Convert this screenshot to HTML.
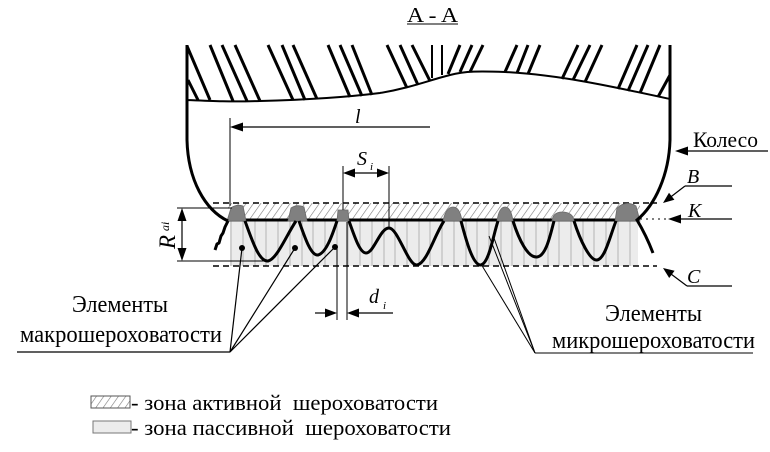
<!DOCTYPE html>
<html><head><meta charset="utf-8"><style>
html,body{margin:0;padding:0;background:#fff;}
svg{display:block;}
text{font-family:"Liberation Serif","DejaVu Serif",serif;fill:#000;white-space:pre;}
</style></head><body>
<svg width="770" height="452" viewBox="0 0 770 452" xmlns="http://www.w3.org/2000/svg" xml:space="preserve">
<defs>
<pattern id="hat" width="6" height="6" patternUnits="userSpaceOnUse" patternTransform="rotate(35)">
<line x1="0" y1="0" x2="0" y2="6" stroke="#7a7a7a" stroke-width="1.2"/>
</pattern>
<clipPath id="clipA"><rect x="228" y="203" width="412" height="17"/></clipPath>
</defs>

<!-- title -->
<text x="407" y="22" font-size="21" textLength="51" lengthAdjust="spacingAndGlyphs">A - A</text>
<line x1="407" y1="24" x2="458" y2="24" stroke="#000" stroke-width="1"/>

<!-- tire hatching -->
<g stroke="#000" stroke-width="3" fill="none" stroke-linecap="butt">
<line x1="187" y1="46" x2="210" y2="100"/>
<line x1="188" y1="80" x2="198" y2="100"/>
<line x1="210" y1="45" x2="233" y2="101"/>
<line x1="222" y1="45" x2="247" y2="101"/>
<line x1="235" y1="45" x2="260" y2="101"/>
<line x1="268" y1="45" x2="293" y2="100"/>
<line x1="282" y1="45" x2="305" y2="100"/>
<line x1="293" y1="45" x2="317" y2="99"/>
<line x1="328" y1="45" x2="350" y2="97"/>
<line x1="340" y1="45" x2="362" y2="96"/>
<line x1="352" y1="45" x2="372" y2="95"/>
<line x1="387" y1="45" x2="407" y2="88"/>
<line x1="400" y1="45" x2="418" y2="85"/>
<line x1="412" y1="45" x2="430" y2="81"/>
<line x1="432" y1="45" x2="432" y2="78" stroke-width="2"/>
<line x1="442" y1="45" x2="442" y2="75" stroke-width="2"/>
<line x1="460" y1="45" x2="448" y2="74"/>
<line x1="472" y1="45" x2="460" y2="72"/>
<line x1="483" y1="45" x2="470" y2="72"/>
<line x1="517" y1="45" x2="505" y2="72"/>
<line x1="528" y1="45" x2="517" y2="73"/>
<line x1="540" y1="45" x2="528" y2="74"/>
<line x1="578" y1="45" x2="562" y2="79"/>
<line x1="590" y1="45" x2="573" y2="80"/>
<line x1="602" y1="45" x2="585" y2="82"/>
<line x1="637" y1="45" x2="618" y2="89"/>
<line x1="648" y1="45" x2="628" y2="91"/>
<line x1="660" y1="45" x2="640" y2="93"/>
<line x1="670" y1="75" x2="658" y2="97"/>
</g>
<!-- tire profile -->
<path d="M187,100 C210,101 230,102 260,101 C300,100 340,98 380,93 C410,88 430,80 450,75 C465,71 480,71 505,72 C560,75 610,86 670,99" stroke="#000" stroke-width="2" fill="none"/>

<!-- passive zone -->
<rect x="230" y="220" width="408" height="46" fill="#ececec"/>
<g stroke="#b4b4b4" stroke-width="1">
<line x1="231" y1="220" x2="231" y2="266"/><line x1="243" y1="220" x2="243" y2="266"/>
<line x1="255" y1="220" x2="255" y2="266"/><line x1="266" y1="220" x2="266" y2="266"/>
<line x1="278" y1="220" x2="278" y2="266"/><line x1="290" y1="220" x2="290" y2="266"/>
<line x1="302" y1="220" x2="302" y2="266"/><line x1="313" y1="220" x2="313" y2="266"/>
<line x1="325" y1="220" x2="325" y2="266"/><line x1="337" y1="220" x2="337" y2="266"/>
<line x1="348" y1="220" x2="348" y2="266"/><line x1="360" y1="220" x2="360" y2="266"/>
<line x1="372" y1="220" x2="372" y2="266"/><line x1="384" y1="220" x2="384" y2="266"/>
<line x1="395" y1="220" x2="395" y2="266"/><line x1="407" y1="220" x2="407" y2="266"/>
<line x1="419" y1="220" x2="419" y2="266"/><line x1="430" y1="220" x2="430" y2="266"/>
<line x1="442" y1="220" x2="442" y2="266"/><line x1="454" y1="220" x2="454" y2="266"/>
<line x1="466" y1="220" x2="466" y2="266"/><line x1="477" y1="220" x2="477" y2="266"/>
<line x1="489" y1="220" x2="489" y2="266"/><line x1="501" y1="220" x2="501" y2="266"/>
<line x1="512" y1="220" x2="512" y2="266"/><line x1="524" y1="220" x2="524" y2="266"/>
<line x1="536" y1="220" x2="536" y2="266"/><line x1="548" y1="220" x2="548" y2="266"/>
<line x1="559" y1="220" x2="559" y2="266"/><line x1="571" y1="220" x2="571" y2="266"/>
<line x1="583" y1="220" x2="583" y2="266"/><line x1="594" y1="220" x2="594" y2="266"/>
<line x1="606" y1="220" x2="606" y2="266"/><line x1="618" y1="220" x2="618" y2="266"/>
<line x1="630" y1="220" x2="630" y2="266"/>
</g>

<!-- active zone hatching -->
<rect x="228" y="203" width="412" height="17" fill="url(#hat)" clip-path="url(#clipA)"/>

<!-- dashed lines B and C -->
<line x1="213" y1="203" x2="657" y2="203" stroke="#000" stroke-width="1.5" stroke-dasharray="6,4"/>
<line x1="213" y1="266" x2="657" y2="266" stroke="#000" stroke-width="1.5" stroke-dasharray="6,4"/>
<!-- K dotted -->
<line x1="640" y1="219" x2="667" y2="219" stroke="#000" stroke-width="1" stroke-dasharray="2,4"/>

<!-- K line thick -->
<line x1="228" y1="220" x2="637" y2="220" stroke="#000" stroke-width="3"/>

<!-- bumps -->
<g fill="#808080" stroke="#6a6a6a" stroke-width="0.8">
<path d="M227,221 L231,208 Q236,204 243,206 L246,221 Z"/>
<path d="M288,221 L291,208 Q297,204 304,207 L307,221 Z"/>
<path d="M337,221 L338,210 L348,210 L349,221 Z"/>
<path d="M443,221 Q446,207 453,207 Q460,207 462,221 Z"/>
<path d="M497,221 Q499,207 505,207 Q511,207 513,221 Z"/>
<path d="M552,221 Q553,212 562,212 Q573,212 574,221 Z"/>
<path d="M615,221 L617,208 Q626,200 636,206 L640,221 Z"/>
</g>

<!-- wave profile -->
<g stroke="#000" stroke-width="3" fill="none" stroke-linejoin="round">
<path d="M215,250 L217,244 L219,243 L221,236 L223,233 L225,227 L228,221"/>
<path d="M245,221 C252,240 259,262 268,261 C277,259 286,236 296,221"/>
<path d="M299,221 C305,238 311,256 318,255 C326,253 332,236 337,221"/>
<path d="M349,221 C355,238 360,253 366,253 C374,253 380,228 389,228 C398,228 408,266 417,265 C427,263 434,236 444,221"/>
<path d="M461,221 C466,240 473,266 481,265 C489,263 493,236 498,221"/>
<path d="M513,221 C519,240 528,258 537,257 C546,256 550,236 554,221"/>
<path d="M574,221 C580,240 590,261 597,260 C605,259 610,236 616,221"/>
</g>

<!-- wheel outline -->
<g stroke="#000" stroke-width="3" fill="none">
<path d="M187,45 L187,140 C188,180 205,210 228,221"/>
<path d="M670,45 L670,140 C669,175 655,205 637,220 C643,230 648,240 653,253"/>
</g>

<!-- l dimension -->
<line x1="230" y1="118" x2="230" y2="206" stroke="#000" stroke-width="1"/>
<line x1="240" y1="127" x2="430" y2="127" stroke="#000" stroke-width="1.2"/>
<polygon points="230,127 243,122.5 243,131.5" fill="#000"/>
<text x="355" y="123" font-size="20" font-style="italic">l</text>

<!-- S_i -->
<line x1="343" y1="166" x2="343" y2="210" stroke="#000" stroke-width="1"/>
<line x1="389" y1="166" x2="389" y2="228" stroke="#000" stroke-width="1"/>
<line x1="350" y1="173" x2="382" y2="173" stroke="#000" stroke-width="1.2"/>
<polygon points="343,173 355,168.5 355,177.5" fill="#000"/>
<polygon points="389,173 377,168.5 377,177.5" fill="#000"/>
<text x="357" y="165" font-size="20" font-style="italic">S</text>
<text x="370" y="170" font-size="11" font-style="italic">i</text>

<!-- d_i -->
<line x1="337" y1="248" x2="337" y2="320" stroke="#000" stroke-width="1"/>
<line x1="347" y1="222" x2="347" y2="320" stroke="#000" stroke-width="1"/>
<line x1="315" y1="313" x2="330" y2="313" stroke="#000" stroke-width="1.2"/>
<line x1="354" y1="313" x2="393" y2="313" stroke="#000" stroke-width="1.2"/>
<polygon points="337,313 325,308.5 325,317.5" fill="#000"/>
<polygon points="347,313 359,308.5 359,317.5" fill="#000"/>
<text x="369" y="303" font-size="20" font-style="italic">d</text>
<text x="383" y="309" font-size="11" font-style="italic">i</text>

<!-- R_ai -->
<line x1="177" y1="208" x2="232" y2="208" stroke="#000" stroke-width="1"/>
<line x1="177" y1="261" x2="268" y2="261" stroke="#000" stroke-width="1"/>
<line x1="182" y1="215" x2="182" y2="254" stroke="#000" stroke-width="1.2"/>
<polygon points="182,208 177.5,221 186.5,221" fill="#000"/>
<polygon points="182,261 177.5,248 186.5,248" fill="#000"/>
<g transform="translate(175,249) rotate(-90)">
<text x="0" y="0" font-size="23" font-style="italic">R</text>
<text x="18" y="-6" font-size="12" font-style="italic">ai</text>
</g>

<!-- macro elements pointers -->
<g stroke="#000" stroke-width="1.2">
<line x1="242" y1="248" x2="230" y2="352"/>
<line x1="295" y1="248" x2="230" y2="352"/>
<line x1="335" y1="247" x2="230" y2="352"/>
<line x1="17" y1="352" x2="230" y2="352"/>
</g>
<circle cx="242" cy="248" r="3" fill="#000"/>
<circle cx="295" cy="248" r="3" fill="#000"/>
<circle cx="335" cy="247" r="3" fill="#000"/>
<text x="72" y="312" font-size="24" textLength="96" lengthAdjust="spacingAndGlyphs">Элементы</text>
<text x="20" y="342" font-size="24" textLength="202" lengthAdjust="spacingAndGlyphs">макрошероховатости</text>

<!-- micro elements pointers -->
<g stroke="#000" stroke-width="1">
<line x1="481" y1="264" x2="535" y2="353"/>
<line x1="489" y1="236" x2="535" y2="353"/>
<line x1="494" y1="238" x2="535" y2="353"/>
<line x1="535" y1="353" x2="753" y2="353"/>
</g>
<text x="605" y="321" font-size="24" textLength="97" lengthAdjust="spacingAndGlyphs">Элементы</text>
<text x="552" y="348" font-size="24" textLength="203" lengthAdjust="spacingAndGlyphs">микрошероховатости</text>

<!-- right labels -->
<text x="693" y="147" font-size="22" textLength="65" lengthAdjust="spacingAndGlyphs">Колесо</text>
<line x1="686" y1="151" x2="768" y2="151" stroke="#000" stroke-width="1.2"/>
<polygon points="675,151 688,146.5 688,155.5" fill="#000"/>

<text x="687" y="183" font-size="20" font-style="italic">B</text>
<line x1="685" y1="186" x2="732" y2="186" stroke="#000" stroke-width="1.2"/>
<line x1="685" y1="186" x2="670" y2="197.5" stroke="#000" stroke-width="1.2"/>
<polygon points="663,203 674.4,199.8 669,192.8" fill="#000"/>

<text x="688" y="217" font-size="20" font-style="italic">K</text>
<line x1="679" y1="219" x2="732" y2="219" stroke="#000" stroke-width="1.2"/>
<polygon points="668,219 681,214.5 681,223.5" fill="#000"/>

<text x="687" y="283" font-size="20" font-style="italic">C</text>
<line x1="687" y1="286" x2="732" y2="286" stroke="#000" stroke-width="1.2"/>
<line x1="687" y1="286" x2="671" y2="274" stroke="#000" stroke-width="1.2"/>
<polygon points="663,268 669.2,278 674.6,270.8" fill="#000"/>

<!-- legend -->
<rect x="91" y="396" width="39" height="12" fill="url(#hat)" stroke="#555" stroke-width="1"/>
<text x="131" y="410" font-size="22" textLength="307" lengthAdjust="spacingAndGlyphs">- зона активной  шероховатости</text>
<rect x="93" y="421" width="38" height="12" fill="#ececec" stroke="#777" stroke-width="1"/>
<text x="131" y="435" font-size="22" textLength="320" lengthAdjust="spacingAndGlyphs">- зона пассивной  шероховатости</text>
</svg>
</body></html>
